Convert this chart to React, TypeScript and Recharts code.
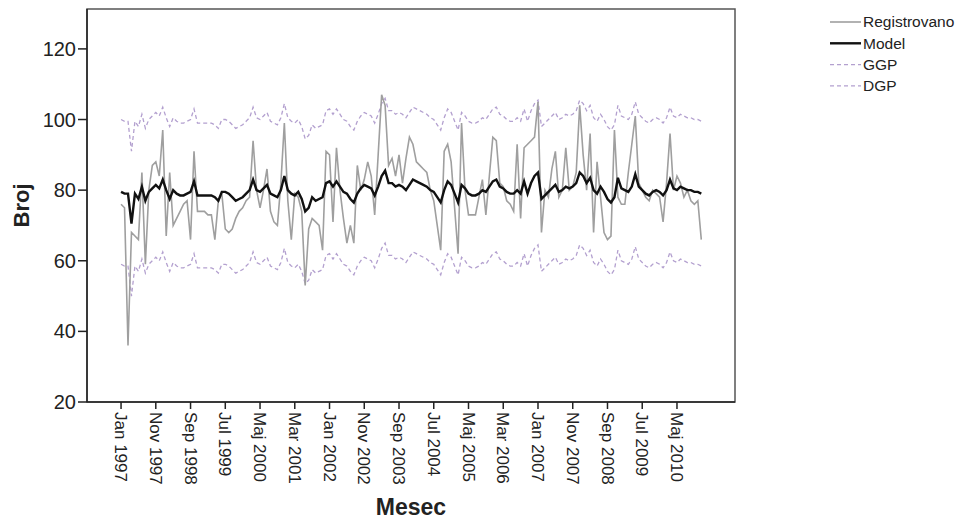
import React from "react";
import { LineChart, Line, XAxis, YAxis, ReferenceArea, Legend, Label } from "recharts";

// month index 0 = Jan 1997, one value per month up to Dec 2010
const tickPositions = [0, 10, 20, 30, 40, 50, 60, 70, 80, 90, 100, 110, 120, 130, 140, 150, 160];
const tickLabels = [
  "Jan 1997", "Nov 1997", "Sep 1998", "Jul 1999", "Maj 2000", "Mar 2001",
  "Jan 2002", "Nov 2002", "Sep 2003", "Jul 2004", "Maj 2005", "Mar 2006",
  "Jan 2007", "Nov 2007", "Sep 2008", "Jul 2009", "Maj 2010",
];
const yTicks = [20, 40, 60, 80, 100, 120];

const registrovano = [
  76, 75, 36, 68, 67, 66, 85, 59, 80, 87, 88, 84,
  97, 67, 85, 70, 72, 74, 76, 77, 66, 91, 74, 74,
  74, 73, 73, 66, 77, 79, 69, 68, 69, 72, 74, 75,
  77, 78, 94, 80, 75, 80, 86, 74, 71, 70, 82, 99,
  77, 66, 79, 78, 74, 53, 69, 72, 71, 70, 63, 91,
  90, 71, 92, 80, 72, 65, 70, 65, 87, 80, 83, 88,
  84, 73, 90, 107, 104, 87, 89, 84, 90, 82, 89, 95,
  93, 88, 87, 86, 85, 80, 77, 70, 63, 91, 93, 88,
  75, 62, 99, 80, 73, 73, 73, 78, 83, 73, 84, 95,
  94, 82, 81, 77, 76, 74, 93, 72, 92, 93, 94, 95,
  105, 68, 80, 78, 86, 91, 78, 80, 92, 80, 81, 85,
  104, 90, 80, 96, 68, 88, 78, 68, 66, 67, 97, 78,
  76, 76, 85, 93, 101, 82, 80, 78, 77, 80, 79, 78,
  71, 82, 96, 80, 84, 82, 78, 80, 77, 76, 77, 66,
];

const model = [
  79.5, 79, 79, 70.5, 79, 77.5, 81, 77, 79.5, 80.5, 81.5, 80.5,
  83, 80, 77.5, 80, 79, 78.5, 78.5, 79, 79.5, 82.5, 78.5, 78.5,
  78.5, 78.5, 78.5, 78, 77, 79.5, 79.5, 79, 78, 77, 77.5, 78,
  79, 80, 83, 80, 79.5, 80.5, 81.5, 79, 78.5, 78, 80, 84,
  80, 79, 78.5, 79.5, 77.5, 74, 75, 78, 77, 77.5, 78, 82,
  82.5, 81, 82.5, 81, 79.5, 79, 77.5, 76.5, 79, 80.5, 81.5, 81,
  80.5, 78.5, 81, 84, 85.5, 82, 82, 81, 81.5, 81, 80, 81.5,
  83, 82.5, 82, 81.5, 81, 80, 79.5, 78, 76.5, 80, 82.5, 81.5,
  79, 76.5, 81.5, 80.5, 79, 78.5, 78.5, 79, 80, 79.5, 81, 82.5,
  83, 81, 80.5, 79.5, 79, 79, 80, 79, 82.5, 79, 82, 84,
  85, 77.5, 78.5, 79.5, 80.5, 81.5, 79.5, 80, 81, 80.5, 81, 82,
  85, 84, 82, 83.5, 80, 79, 81, 79.5, 77.5, 76.5, 78, 83.5,
  80.5, 80, 79.5, 81, 84.5, 81, 80, 79, 78.5, 79.5, 80, 79.5,
  78.5, 80, 83, 80.5, 80, 81, 80.5, 80, 80, 79.5, 79.5, 79,
];

const ggp = [
  100, 99.5, 99.5, 91, 99.5, 98, 101.5, 97.5, 100, 101, 102, 101,
  103.5, 100.5, 98, 100.5, 99.5, 99, 99, 99.5, 100, 103, 99, 99,
  99, 99, 99, 98.5, 97.5, 100, 100, 99.5, 98.5, 97.5, 98, 98.5,
  99.5, 100.5, 103.5, 100.5, 100, 101, 102, 99.5, 99, 98.5, 100.5, 104.5,
  100.5, 99.5, 99, 100, 98, 94.5, 95.5, 98.5, 97.5, 98, 98.5, 102.5,
  103, 101.5, 103, 101.5, 100, 99.5, 98, 97, 99.5, 101, 102, 101.5,
  101, 99, 101.5, 104.5, 106, 102.5, 102.5, 101.5, 102, 101.5, 100.5, 102,
  103.5, 103, 102.5, 102, 101.5, 100.5, 100, 98.5, 97, 100.5, 103, 102,
  99.5, 97, 102, 101, 99.5, 99, 99, 99.5, 100.5, 100, 101.5, 103,
  103.5, 101.5, 101, 100, 99.5, 99.5, 100.5, 99.5, 103, 99.5, 102.5, 104.5,
  105.5, 98, 99, 100, 101, 102, 100, 100.5, 101.5, 101, 101.5, 102.5,
  105.5, 104.5, 102.5, 104, 100.5, 99.5, 101.5, 100, 98, 97, 98.5, 104,
  101, 100.5, 100, 101.5, 105, 101.5, 100.5, 99.5, 99, 100, 100.5, 100,
  99, 100.5, 103.5, 101, 100.5, 101.5, 101, 100.5, 100.5, 100, 100, 99.5,
];

const dgp = [
  59, 58.5, 58.5, 50, 58.5, 57, 60.5, 56.5, 59, 60, 61, 60,
  62.5, 59.5, 57, 59.5, 58.5, 58, 58, 58.5, 59, 62, 58, 58,
  58, 58, 58, 57.5, 56.5, 59, 59, 58.5, 57.5, 56.5, 57, 57.5,
  58.5, 59.5, 62.5, 59.5, 59, 60, 61, 58.5, 58, 57.5, 59.5, 63.5,
  59.5, 58.5, 58, 59, 57, 53.5, 54.5, 57.5, 56.5, 57, 57.5, 61.5,
  62, 60.5, 62, 60.5, 59, 58.5, 57, 56, 58.5, 60, 61, 60.5,
  60, 58, 60.5, 63.5, 65, 61.5, 61.5, 60.5, 61, 60.5, 59.5, 61,
  62.5, 62, 61.5, 61, 60.5, 59.5, 59, 57.5, 56, 59.5, 62, 61,
  58.5, 56, 61, 60, 58.5, 58, 58, 58.5, 59.5, 59, 60.5, 62,
  62.5, 60.5, 60, 59, 58.5, 58.5, 59.5, 58.5, 62, 58.5, 61.5, 63.5,
  64.5, 57, 58, 59, 60, 61, 59, 59.5, 60.5, 60, 60.5, 61.5,
  64.5, 63.5, 61.5, 63, 59.5, 58.5, 60.5, 59, 57, 56, 57.5, 63,
  60, 59.5, 59, 60.5, 64, 60.5, 59.5, 58.5, 58, 59, 59.5, 59,
  58, 59.5, 62.5, 60, 59.5, 60.5, 60, 59.5, 59.5, 59, 59, 58.5,
];

const data = model.map((m, i) => ({
  idx: i,
  registrovano: registrovano[i],
  model: m,
  ggp: ggp[i],
  dgp: dgp[i],
}));

const series = [
  { key: "registrovano", name: "Registrovano", color: "#9f9f9f", width: 1.6, dash: undefined },
  { key: "model", name: "Model", color: "#111111", width: 2.4, dash: undefined },
  { key: "ggp", name: "GGP", color: "#b3a0cf", width: 1.3, dash: "4 3" },
  { key: "dgp", name: "DGP", color: "#b3a0cf", width: 1.3, dash: "4 3" },
];

const font = "'Liberation Sans', Arial, sans-serif";

const MonthTick = (props: any) => {
  const { x, y, payload } = props;
  const label = tickLabels[tickPositions.indexOf(payload.value)];
  return (
    <text
      transform={`translate(${x},${y}) rotate(90)`}
      textAnchor="start"
      dy="0.35em"
      fontSize={17}
      fill="#222"
      fontFamily={font}
    >
      {label}
    </text>
  );
};

const renderLegend = () => (
  <svg width={134} height={90}>
    {series.map((s, i) => {
      const cy = 11 + i * 21.3;
      return (
        <g key={s.key}>
          <line
            x1={0}
            x2={31}
            y1={cy}
            y2={cy}
            stroke={s.color}
            strokeWidth={s.width}
            strokeDasharray={s.dash}
          />
          <text x={33} y={cy} dy="0.35em" fontSize={15.5} fill="#222" fontFamily={font}>
            {s.name}
          </text>
        </g>
      );
    })}
  </svg>
);

export default function App() {
  return (
    <div style={{ width: 958, height: 512, fontFamily: font, position: "relative" }}>
      <LineChart
        width={958}
        height={512}
        data={data}
        margin={{ top: 1, right: 231, bottom: 0, left: 19 }}
      >
        <XAxis
          type="number"
          dataKey="idx"
          domain={[-9.8, 176.7]}
          ticks={tickPositions}
          interval={0}
          allowDataOverflow
          height={118}
          tickSize={7}
          tickMargin={3}
          axisLine={{ stroke: "#222", strokeWidth: 1.5 }}
          tickLine={{ stroke: "#222", strokeWidth: 1.5 }}
          tick={<MonthTick />}
        >
          <Label
            value="Mesec"
            position="insideBottom"
            offset={5}
            style={{ fontSize: 23, fontWeight: "bold", fill: "#222", fontFamily: font }}
          />
        </XAxis>
        <YAxis
          domain={[20, 131.3]}
          ticks={yTicks}
          allowDataOverflow
          width={60}
          tickSize={9}
          tickMargin={2}
          axisLine={{ stroke: "#222", strokeWidth: 1.5 }}
          tickLine={{ stroke: "#222", strokeWidth: 1.5 }}
          tick={{ fontSize: 20, fill: "#222", fontFamily: font }}
        >
          <Label
            content={(p: any) => {
              const vb = p.viewBox;
              return (
                <text
                  transform={`translate(${vb.x + 2},${vb.y + vb.height / 2}) rotate(-90)`}
                  textAnchor="middle"
                  fontSize={22}
                  fontWeight="bold"
                  fill="#222"
                  fontFamily={font}
                >
                  Broj
                </text>
              );
            }}
          />
        </YAxis>
        <ReferenceArea
          x1={-9.8}
          x2={176.7}
          y1={20}
          y2={131.3}
          fill="none"
          stroke="#555"
          strokeWidth={1.5}
          fillOpacity={0}
        />
        <Legend
          layout="vertical"
          align="center"
          verticalAlign="middle"
          content={renderLegend}
          wrapperStyle={{ left: 822, top: 3, width: 134 }}
        />
        {[series[2], series[3], series[0], series[1]].map((s) => (
          <Line
            key={s.key}
            type="linear"
            dataKey={s.key}
            name={s.name}
            stroke={s.color}
            strokeWidth={s.width}
            strokeDasharray={s.dash}
            dot={false}
            activeDot={false}
            isAnimationActive={false}
          />
        ))}
      </LineChart>
    </div>
  );
}
